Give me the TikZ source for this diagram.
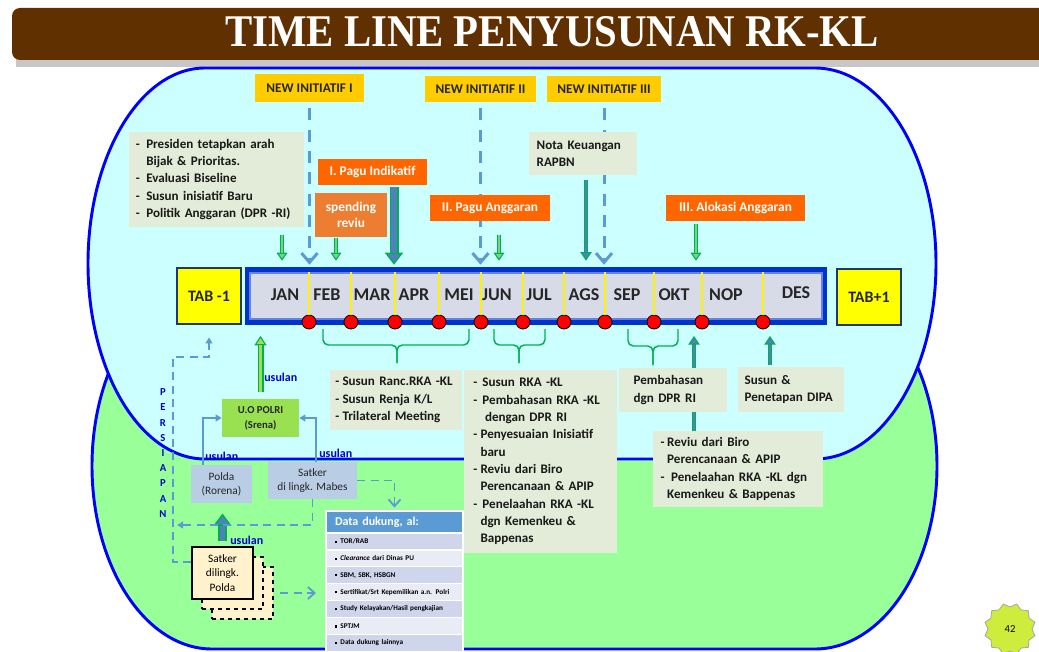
\documentclass[tikz,border=0pt]{standalone}
\usepackage{fontspec}
\setmainfont{Carlito}
\newfontfamily\titlefont{Liberation Serif}
\usetikzlibrary{arrows.meta,shapes.geometric}

\definecolor{skyfill}{RGB}{204,255,255}
\definecolor{grassfill}{RGB}{153,255,153}
\definecolor{edgeblue}{RGB}{0,0,255}
\definecolor{titlebrown}{RGB}{96,48,0}
\definecolor{initgold}{RGB}{255,204,0}
\definecolor{paguorange}{RGB}{255,102,0}
\definecolor{reviuorange}{RGB}{237,125,49}
\definecolor{notefill}{RGB}{226,236,216}
\definecolor{barblue}{RGB}{0,51,204}
\definecolor{barline}{RGB}{100,130,225}
\definecolor{bargrey}{RGB}{215,219,231}
\definecolor{tabyellow}{RGB}{255,255,0}
\definecolor{tabnavy}{RGB}{31,56,100}
\definecolor{dashblue}{RGB}{91,155,213}
\definecolor{arrgreen}{RGB}{0,176,80}
\definecolor{arrlight}{RGB}{110,215,130}
\definecolor{arrcore}{RGB}{79,129,189}
\definecolor{limegreen}{RGB}{153,225,80}
\definecolor{poldablue}{RGB}{185,205,229}
\definecolor{creamfill}{RGB}{255,242,204}
\definecolor{rowdark}{RGB}{207,213,234}
\definecolor{rowlight}{RGB}{233,235,245}
\definecolor{usulblue}{RGB}{0,0,204}
\definecolor{badgefill}{RGB}{206,236,60}

\newcommand\itemdash[1][0.55em]{\makebox[#1][l]{-}}
\newcommand\rowmark{\rule[0.5pt]{1.6pt}{1.6pt}\hspace{2.5pt}}

\tikzset{
  region/.style={draw=edgeblue, line width=2.2pt},
  titletext/.style={anchor=base, text=white, inner sep=0pt,
    font=\titlefont\bfseries\fontsize{34}{34}\selectfont},
  barframe/.style={fill=barblue, minimum width=436.5pt, minimum height=43.5pt, inner sep=0pt},
  barinner/.style={fill=bargrey, draw=barline, line width=0.8pt,
    minimum width=429pt, minimum height=34.5pt, inner sep=0pt},
  month/.style={inner sep=0pt, text=black!85, font=\bfseries\fontsize{13.5}{15}\selectfont},
  divider/.style={draw=yellow, line width=0.9pt},
  reddot/.style={circle, fill=red, draw=black, line width=0.6pt, minimum size=10.5pt, inner sep=0pt},
  tabbox/.style={fill=tabyellow, draw=tabnavy, line width=2pt, minimum width=48pt,
    minimum height=42pt, inner sep=0pt, text=black!85, font=\bfseries\fontsize{12}{14}\selectfont},
  initbox/.style={fill=initgold, minimum height=19.5pt, inner sep=0pt, text=black!85,
    font=\bfseries\fontsize{10}{12}\selectfont},
  pagubox/.style={fill=paguorange, minimum height=19.5pt, inner sep=0pt, text=white,
    font=\bfseries\fontsize{10}{12.5}\selectfont},
  notebox/.style={fill=notefill, inner ysep=0pt, align=left, text=black!90,
    font=\bfseries\fontsize{9.8}{13}\selectfont},
  uobox/.style={fill=limegreen, minimum width=57.75pt, minimum height=28.5pt, inner sep=0pt,
    align=center, text=black!85, font=\bfseries\fontsize{8}{11}\selectfont},
  unitbox/.style={fill=poldablue, minimum height=28pt, inner sep=0pt, align=center,
    text=black!85, font=\fontsize{8.5}{10.5}\selectfont},
  satkerbox/.style={fill=creamfill, draw=black, line width=1pt, minimum width=45.75pt,
    minimum height=39pt, inner sep=0pt, align=center, font=\fontsize{8.5}{10.9}\selectfont},
  satkerback/.style={satkerbox, dashed},
  persiapan/.style={inner sep=0pt, align=center, text=usulblue,
    font=\bfseries\fontsize{8}{11.4}\selectfont},
  usulan/.style={anchor=west, inner sep=0pt, text=usulblue, font=\bfseries\fontsize{9}{10}\selectfont},
  datahead/.style={fill=dashblue, draw=white, line width=1.2pt, minimum height=16.5pt,
    text width=89.25pt, inner xsep=6.75pt, inner ysep=0pt, align=left, text=white,
    font=\bfseries\fontsize{9}{10}\selectfont},
  datarow/.style={draw=white, line width=1pt, minimum height=12.675pt, text width=89.25pt,
    inner xsep=6.75pt, inner ysep=0pt, align=left, font=\bfseries\fontsize{5.4}{6}\selectfont},
  initarrow/.style={draw=dashblue, line width=2.25pt, dash pattern=on 9pt off 7pt,
    -{Straight Barb[width=12pt,length=7pt]}},
  shaftthin/.style={draw=arrgreen, line width=3pt,
    -{Triangle[width=8pt,length=6pt,fill=arrlight,line width=0.8pt]}},
  corethin/.style={draw=arrlight, line width=1.2pt, shorten >=6pt},
  shaftmid/.style={draw=arrgreen, line width=3.5pt,
    -{Triangle[width=8.5pt,length=6.5pt,fill=arrcore,line width=0.8pt]}},
  coremid/.style={draw=arrcore, line width=1.6pt, shorten >=6.5pt},
  shaftbig/.style={draw=arrgreen, line width=6.75pt,
    -{Triangle[width=13.5pt,length=9pt,fill=arrcore,line width=1pt]}},
  corebig/.style={draw=arrcore, line width=3.8pt, shorten >=9pt},
  shaftuo/.style={draw=arrgreen, line width=4.5pt,
    -{Triangle[width=9pt,length=7pt,fill=limegreen,line width=0.8pt]}},
  coreuo/.style={draw=limegreen, line width=2pt, shorten >=7pt},
  bracket/.style={draw=arrgreen, line width=1.1pt, rounded corners=4pt},
  flowline/.style={draw=dashblue, line width=1.3pt, -{Triangle[width=5pt,length=4.5pt]}},
  dflow/.style={draw=dashblue, line width=1.4pt, dash pattern=on 6pt off 4pt},
  openhead/.style={-{Straight Barb[width=9pt,length=5pt]}},
  filledhead/.style={-{Triangle[width=5pt,length=4.5pt]}},
  badge/.style={star, star points=12, star point ratio=0.85, fill=badgefill, draw=black!35,
    line width=0.6pt, minimum size=33pt, inner sep=0pt, font=\fontsize{8}{9}\selectfont}
}

\begin{document}
\begin{tikzpicture}[x=0.75pt,y=0.75pt]
\useasboundingbox (0,0) rectangle (1039,651);
\clip (0,0) rectangle (1039,651);
\fill[white] (0,0) rectangle (1039,651);

% judul
\fill[black!22] (16,584) rectangle (1039,636);
\fill[titlebrown, rounded corners=6pt] (12,591) rectangle (1050,643);
\node[titletext] (title) at (552,604) {\scalebox{0.9}[1]{TIME LINE PENYUSUNAN RK-KL}};

% bidang
\filldraw[region, fill=grassfill] (212,368) -- (815,368)
  arc[start angle=90, end angle=-90, x radius=122, y radius=183] -- (212,2)
  arc[start angle=270, end angle=90, x radius=120, y radius=183] -- cycle;
\filldraw[region, fill=skyfill] (205,583) -- (815,583)
  arc[start angle=90, end angle=-90, x radius=121, y radius=195.5] -- (205,192)
  arc[start angle=270, end angle=90, x radius=117, y radius=195.5] -- cycle;

% bulan
\node[barframe] (bar) at (536,355) {};
\node[barinner] (barin) at (536,355) {};
\foreach \m/\x/\y in {JAN/285/356, FEB/327/356, MAR/372/356, APR/414/356, MEI/459/356,
  JUN/497/356, JUL/539/356, AGS/584/356, SEP/627/356, OKT/674/356, NOP/726/356, DES/796/358}
  \node[month] (\m) at (\x,\y) {\m};
\foreach \x [count=\i] in {309,351,395,439,481,523,564,605,654,702,763} {
  \node[reddot] (dot\i) at (\x,329) {};
  \draw[divider] (dot\i.north) -- (dot\i |- barin.north);
}
\node[tabbox] (tabm) at (209,355) {TAB -1};
\node[tabbox] (tabp) at (869,354) {TAB+1};

% new initiatif
\node[initbox, minimum width=81.75pt, minimum height=21pt] (ni1) at (309.5,563) {NEW INITIATIF I};
\node[initbox, minimum width=83.25pt] (ni2) at (480.5,562) {NEW INITIATIF II};
\node[initbox, minimum width=85.5pt] (ni3) at (604,562) {NEW INITIATIF III};

% kotak atas
\node[notebox, text width=121pt, inner xsep=5pt, minimum height=71.25pt] (arah) at (216.5,471.5)
  {\itemdash[0.8em]Presiden tetapkan arah\\\hspace*{0.8em}Bijak \& Prioritas.\\
   \itemdash[0.8em]Evaluasi Biseline\\\itemdash[0.8em]Susun inisiatif Baru\\
   \itemdash[0.8em]Politik Anggaran (DPR -RI)};
\node[pagubox, minimum width=81.75pt] (pagu1) at (372.5,479) {I. Pagu Indikatif};
\node[pagubox, fill=reviuorange, minimum width=54pt, minimum height=33pt, align=center] (spend)
  at (351,436) {spending\\reviu};
\node[pagubox, minimum width=104.25pt] (pagu3) at (735.5,443) {III. Alokasi Anggaran};

% kotak bawah
\node[notebox, text width=91pt, inner xsep=4pt, minimum height=45pt] (ranc) at (396,251)
  {\itemdash Susun Ranc.RKA -KL\\\itemdash Susun Renja K/L\\\itemdash Trilateral Meeting};
\node[notebox, text width=100.75pt, inner xsep=7pt, minimum height=137.25pt] (rka) at (540.5,189.5)
  {\itemdash[0.7em]Susun RKA -KL\\\itemdash[0.7em]Pembahasan RKA -KL\\\hspace*{0.9em}dengan DPR RI\\
   \itemdash Penyesuaian Inisiatif\\\hspace*{0.55em}baru\\\itemdash Reviu dari Biro\\
   \hspace*{0.55em}Perencanaan \& APIP\\\itemdash[0.7em]Penelaahan RKA -KL\\
   \hspace*{0.55em}dgn Kemenkeu \&\\\hspace*{0.55em}Bappenas};
\node[notebox, text width=69.5pt, inner xsep=5pt, minimum height=33.75pt] (dipa) at (791,261.5)
  {Susun \&\\Penetapan DIPA};
\node[notebox, text width=116pt, inner xsep=5.75pt, minimum height=57pt] (reviu) at (738,182)
  {\itemdash[0.5em]Reviu dari Biro\\\hspace*{0.5em}Perencanaan \& APIP\\
   \itemdash[0.8em]Penelaahan RKA -KL dgn\\\hspace*{0.5em}Kemenkeu \& Bappenas};

% kiri bawah
\node[uobox] (uo) at (260.5,233) {U.O POLRI\\(Srena)};
\node[unitbox, minimum width=45.75pt] (polda) at (221.5,167) {Polda\\(Rorena)};
\node[unitbox, minimum width=66.75pt] (mabes) at (312.5,170.5) {Satker\\di lingk. Mabes};
\node[satkerback] (satkerC) at (242.5,58) {};
\node[satkerback] (satkerB) at (232.5,68) {};
\node[satkerbox] (satkerA) at (222.5,78) {Satker\\dilingk.\\Polda};
\node[persiapan] (prep) at (163,198) {P\\E\\R\\S\\I\\A\\P\\A\\N};
\node[datahead] (datahead) at (394.5,129) {Data dukung, al:};
\foreach \t/\c [count=\i] in {{TOR/RAB}/rowdark, {\textit{Clearance} dari Dinas PU}/rowlight,
  {SBM, SBK, HSBGN}/rowdark, {Sertifikat/Srt Kepemilikan a.n. Polri}/rowlight,
  {Study Kelayakan/Hasil pengkajian}/rowdark, {SPTJM}/rowlight, {Data dukung lainnya}/rowdark}
  \node[datarow, fill=\c] (row\i) at ({394.5},{126.45-16.9*\i}) {\rowmark\t};

% panah new initiatif
\foreach \n in {ni1,ni2,ni3}
  \draw[initarrow] ([yshift=-4.5pt]\n.south) -- ([yshift=1.5pt]\n.south |- bar.north);

% panah hijau ke bulan
\coordinate (g1) at (282,416);
\coordinate (g2) at (336,413);
\coordinate (g3) at (394,464);
\coordinate (g4) at (499,416);
\coordinate (g5) at (586,471);
\coordinate (g6) at (696,427);
\foreach \s in {g1,g2,g4,g6} {
  \draw[shaftthin] (\s) -- ([yshift=4.5pt]\s |- bar.north);
  \draw[corethin] (\s) -- ([yshift=4.5pt]\s |- bar.north);
}
\draw[shaftmid] (g5) -- ([yshift=4.5pt]g5 |- bar.north);
\draw[coremid] (g5) -- ([yshift=4.5pt]g5 |- bar.north);
\draw[shaftbig] (g3) -- ([yshift=1.5pt]g3 |- bar.north);
\draw[corebig] (g3) -- ([yshift=1.5pt]g3 |- bar.north);

% panah hijau dari bawah
\coordinate (u2) at (694,220);
\coordinate (u3) at (770,286);
\foreach \s in {u2,u3} {
  \draw[shaftmid] (\s) -- ([yshift=-8pt]\s |- bar.south);
  \draw[coremid] (\s) -- ([yshift=-8pt]\s |- bar.south);
}
\draw[shaftuo] ([yshift=5pt]uo.north) -- ([yshift=-8pt]uo.north |- bar.south);
\draw[coreuo] ([yshift=5pt]uo.north) -- ([yshift=-8pt]uo.north |- bar.south);
\draw[shaftbig] ([yshift=4pt]satkerA.north) -- ([yshift=-8pt]satkerA.north |- polda.south);
\draw[corebig] ([yshift=4pt]satkerA.north) -- ([yshift=-8pt]satkerA.north |- polda.south);

% kurung
\draw[bracket] (323,322) |- (397,306) -- (397,288);
\draw[bracket] (469,322) |- (397,306) -- (397,288);
\draw[bracket] (494,322) |- (519,306) -- (519,288);
\draw[bracket] (545,322) |- (519,306) -- (519,288);
\draw[bracket] (628,322) |- (653,305) -- (653,286);
\draw[bracket] (678,322) |- (653,305) -- (653,286);

% usulan
\coordinate (pn) at (203,186);
\coordinate (mn) at (316,189);
\draw[flowline] (pn) |- (uo.west);
\draw[flowline] (mn) |- (uo.east);
\coordinate (pl) at (173,89);
\coordinate (pt) at (209,294);
\coordinate (pa) at (177,126);
\draw[dflow, filledhead] ([yshift=8.25pt]satkerA.west) -- (pl) |- (pt) -- ([yshift=-9pt]tabm.south);
\draw[dflow, filledhead] (mabes.south) |- (pa);
\draw[dflow, openhead] (mabes.east) -| ([yshift=2pt]datahead.north);
\draw[dflow, openhead] ([xshift=5pt]satkerC.east) -- ([xshift=-7pt]satkerC.east -| row4.west);
\node[usulan] (us1) at (264,274) {usulan};
\node[usulan] (us2) at (205,195) {usulan};
\node[usulan] (us3) at (319,198) {usulan};
\node[usulan] (us4) at (230,111) {usulan};

% kotak di atas garis
\node[notebox, text width=69.5pt, inner xsep=5.75pt, minimum height=32.25pt] (nota) at (583,497.5)
  {Nota Keuangan\\RAPBN};
\node[pagubox, minimum width=90pt] (pagu2) at (490,443) {II. Pagu Anggaran};
\node[notebox, text width=59pt, inner xsep=11pt, minimum height=33pt] (bahas) at (673,261)
  {Pembahasan\\dgn DPR RI};

% halaman
\node[badge] (page) at (1010,22) {42};
\end{tikzpicture}
\end{document}
